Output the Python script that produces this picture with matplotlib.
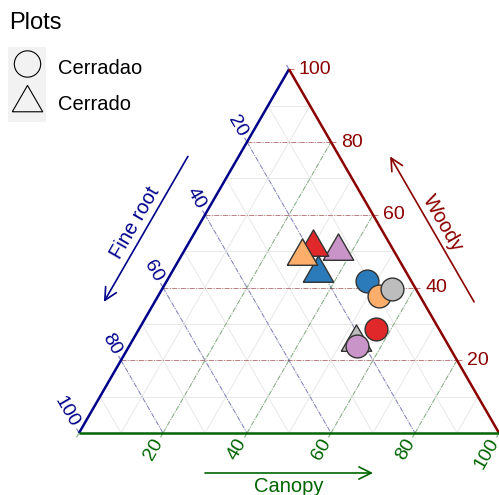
import numpy as np
import matplotlib.pyplot as plt
from matplotlib.patches import Rectangle

plt.rcParams['font.family'] = ['Liberation Sans', 'DejaVu Sans']

# composition of each plot (%), in drawing order
plot_type = ["Cerrado"] * 5 + ["Cerradao"] * 5
canopy    = [36.7, 30.2, 34.8, 28.9, 53.5, 47.7, 52.5, 54.7, 56.3, 54.2]
fine_root = [13.2, 18.7, 21.1, 22.5, 21.5, 10.6,  9.8,  5.8, 15.0, 21.8]
woody     = [50.1, 51.1, 44.1, 48.6, 25.0, 41.7, 37.7, 39.5, 28.7, 24.0]
fills     = ["#C994C7", "#E0282A", "#2B7BBA", "#FDAE6B", "#BDBDBD",
             "#2B7BBA", "#FDAE6B", "#BDBDBD", "#E0282A", "#C994C7"]

ticks = [0, 20, 40, 60, 80, 100]
minor = [10, 20, 30, 40, 50, 60, 70, 80, 90]

BLUE, RED, GREEN = "#00008B", "#8B0000", "#006400"
S3 = np.sqrt(3) / 2
PX = 1 / 420.0   # one pixel in triangle units


def tern(c, f, w):
    t = c + f + w
    return (c + w / 2) / t, (w / t) * S3


tri_marker = [(-1, -0.577), (1, -0.577), (0, 1.155), (-1, -0.577)]

fig = plt.figure(figsize=(4.99, 4.95), dpi=100)
ax = fig.add_axes([0, 0, 1, 1])
ax.set_xlim(-79 * PX, 420 * PX)
ax.set_ylim(-62 * PX, 433 * PX)
ax.axis('off')


def seg(p, q, **kw):
    ax.plot([p[0], q[0]], [p[1], q[1]], solid_capstyle='butt', **kw)


# light minor grid
for v in minor:
    gk = dict(color="#E8E8E8", lw=0.7, zorder=1)
    seg(tern(0, 100 - v, v), tern(100 - v, 0, v), **gk)
    seg(tern(v, 100 - v, 0), tern(v, 0, 100 - v), **gk)
    seg(tern(0, v, 100 - v), tern(100 - v, v, 0), **gk)

# coloured major grid
dash = (0, (5, 1.5, 1, 1.5))
for v in [20, 40, 60, 80]:
    seg(tern(0, 100 - v, v), tern(100 - v, 0, v), color=RED, alpha=0.45,
        lw=0.7, ls=dash, zorder=2)
    seg(tern(v, 100 - v, 0), tern(v, 0, 100 - v), color=GREEN, alpha=0.45,
        lw=0.7, ls=dash, zorder=2)
    seg(tern(0, v, 100 - v), tern(100 - v, v, 0), color=BLUE, alpha=0.45,
        lw=0.7, ls=dash, zorder=2)

# triangle edges
seg(tern(0, 100, 0), tern(0, 0, 100), color=BLUE, lw=1.8, zorder=3)
seg(tern(100, 0, 0), tern(0, 0, 100), color=RED, lw=1.8, zorder=3)
seg(tern(0, 100, 0), tern(100, 0, 0), color=GREEN, lw=1.8, zorder=3)

# ticks and tick labels
tl = 5 * PX
d_left = np.array([-0.5, S3])
d_bot = np.array([-0.5, -S3])
d_right = np.array([1.0, 0.0])
for v in ticks:
    p = np.array(tern(0, v, 100 - v))
    seg(p, p + tl * d_left, color=BLUE, alpha=0.5, lw=0.8)
    p2 = np.array(tern(v, 100 - v, 0))
    seg(p2, p2 + tl * d_bot, color=GREEN, alpha=0.5, lw=0.8)
    p3 = np.array(tern(100 - v, 0, v))
    seg(p3, p3 + tl * d_right, color=RED, alpha=0.5, lw=0.8)
    if v == 0:
        continue
    q = p + 8 * PX * d_left
    ax.text(q[0], q[1], str(v), color=BLUE, fontsize=14, rotation=-60,
            ha='right', va='center', rotation_mode='anchor')
    q = p2 + 8 * PX * d_bot
    ax.text(q[0], q[1], str(v), color=GREEN, fontsize=14, rotation=60,
            ha='right', va='center', rotation_mode='anchor')
    q = p3 + 10 * PX * d_right
    ax.text(q[0], q[1], str(v), color=RED, fontsize=14,
            ha='left', va='center')

# axis titles with arrows
n_left = np.array([-S3, 0.5])
n_right = np.array([S3, 0.5])
n_bot = np.array([0.0, -1.0])
bl, br, top = np.array(tern(0, 100, 0)), np.array(tern(100, 0, 0)), np.array(tern(0, 0, 100))


def arrow(a, b, color):
    ax.annotate('', xy=b, xytext=a,
                arrowprops=dict(arrowstyle='->', color=color, lw=1.2,
                                mutation_scale=22, shrinkA=0, shrinkB=0))


arrow(bl + 0.3 * (br - bl) + 40 * PX * n_bot,
      bl + 0.7 * (br - bl) + 40 * PX * n_bot, GREEN)
arrow(br + 0.3 * (top - br) + 44 * PX * n_right,
      br + 0.7 * (top - br) + 44 * PX * n_right, RED)
arrow(bl + 0.7 * (top - bl) + 44 * PX * n_left,
      bl + 0.3 * (top - bl) + 44 * PX * n_left, BLUE)

m = bl + 0.5 * (br - bl) + 54 * PX * n_bot
ax.text(m[0], m[1], "Canopy", color=GREEN, fontsize=14.5, ha='center', va='center')
m = br + 0.5 * (top - br) + 56 * PX * n_right
ax.text(m[0], m[1], "Woody", color=RED, fontsize=14.5, rotation=-60,
        ha='center', va='center')
m = bl + 0.5 * (top - bl) + 56 * PX * n_left
ax.text(m[0], m[1], "Fine root", color=BLUE, fontsize=14.5, rotation=60,
        ha='center', va='center')

# points
for c, f, w, col, kind in zip(canopy, fine_root, woody, fills, plot_type):
    x, y = tern(c, f, w)
    if kind == "Cerrado":
        ax.scatter(x, y, s=640, marker=tri_marker, color=col,
                   edgecolor="#333333", linewidth=1.0, zorder=5, clip_on=False)
    else:
        ax.scatter(x, y, s=270, marker='o', color=col,
                   edgecolor="#333333", linewidth=1.0, zorder=5, clip_on=False)

# legend
W, H = 499.0, 495.0


def fp(x, y):
    return x / W, 1 - y / H


ax.text(*fp(9, 23), "Plots", fontsize=17, ha='left', va='center',
        transform=fig.transFigure)
ax.add_patch(Rectangle(fp(8, 122), 38 / W, 75 / H, transform=fig.transFigure,
                       facecolor="#F2F2F2", edgecolor='none', zorder=0,
                       clip_on=False))
ax.scatter(*fp(27.5, 64), s=360, marker='o', facecolor='none', edgecolor='black',
           linewidth=0.8, transform=fig.transFigure, clip_on=False, zorder=6)
ax.scatter(*fp(27.5, 103), s=640, marker=tri_marker, facecolor='none',
           edgecolor='black', linewidth=0.8, transform=fig.transFigure,
           clip_on=False, zorder=6)
ax.text(*fp(58, 68), "Cerradao", fontsize=14.5, ha='left', va='center',
        transform=fig.transFigure)
ax.text(*fp(58, 104), "Cerrado", fontsize=14.5, ha='left', va='center',
        transform=fig.transFigure)

fig.savefig("out.png", dpi=100)
